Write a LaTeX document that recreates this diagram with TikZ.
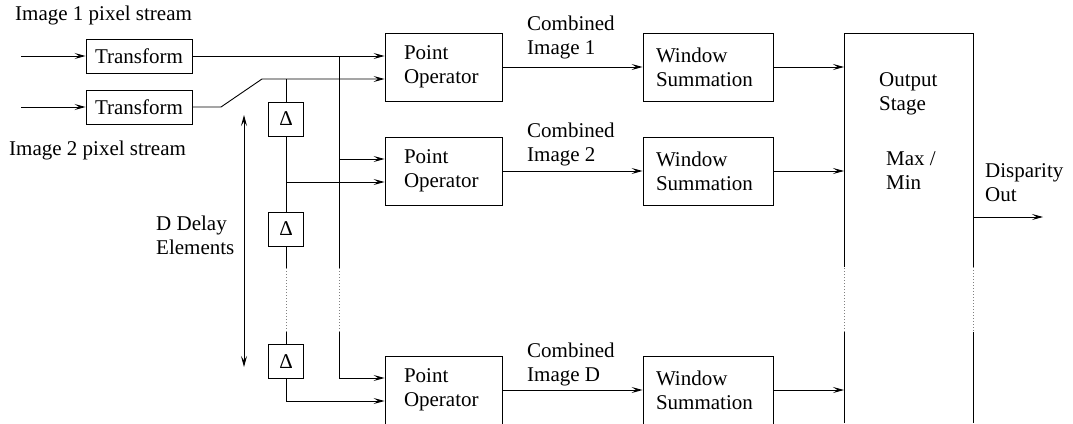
\documentclass[tikz,border=0pt]{standalone}
\usepackage{fontspec}
\setmainfont{Liberation Serif}
\usetikzlibrary{arrows.meta}
\tikzset{
  tip/.tip={Stealth[length=11pt,width=6pt,inset=4.5pt]},
  wire/.style={line width=0.9pt},
  feed/.style={wire, -tip},
  dots/.style={line width=0.9pt, dash pattern=on 1pt off 2pt, gray},
  box/.style={draw, line width=0.9pt, inner sep=0pt},
  xform/.style={box, minimum width=106pt, minimum height=34pt},
  pobox/.style={box, minimum height=68pt, inner ysep=0pt, inner xsep=19pt, text width=79pt, align=left},
  wsbox/.style={box, minimum height=68pt, inner ysep=0pt, inner xsep=13pt, text width=104pt, align=left},
  dbox/.style={box, minimum width=35pt, minimum height=34pt},
  lbl/.style={inner sep=0pt, align=left, anchor=north west}
}
\begin{document}
\begin{tikzpicture}[x=1pt, y=-1pt, font=\fontsize{21}{24}\selectfont]
\useasboundingbox (0,0) rectangle (1073,423);
\clip (0,0) rectangle (1073,423);

% input stage
\node[xform] (t1) at (139,56) {Transform};
\node[xform] (t2) at (139,107) {Transform};
\coordinate (in1) at (21,56);
\coordinate (in2) at (21,107);
\draw[feed] (in1) -- (t1);
\draw[feed] (in2) -- (t2);
\node[lbl] (lab1) at (15,6) {Image 1 pixel stream};
\node[lbl] (lab2) at (9,141) {Image 2 pixel stream};

% point operators
\node[pobox] (po1) at (443.5,67) {Point\\Operator};
\node[pobox] (po2) at (443.5,171) {Point\\Operator};
\node[pobox] (poD) at (443.5,390) {Point\\Operator};

% window summations
\node[wsbox] (ws1) at (708,67) {Window\\Summation};
\node[wsbox] (ws2) at (708,171) {Window\\Summation};
\node[wsbox] (wsD) at (708,390) {Window\\Summation};

% delay elements
\node[dbox] (d1) at (286,119) {Δ};
\node[dbox] (d2) at (286,229) {Δ};
\node[dbox] (d3) at (286,361.5) {Δ};

% output stage (open at the bottom, broken sides)
\coordinate (oTL) at (844,33);
\coordinate (oTR) at (973,33);
\draw[wire] (844,423) -- (844,332);
\draw[dots] (844,332) -- (844,267);
\draw[wire] (844,267) -- (oTL) -- (oTR) -- (973,267);
\draw[dots] (973,267) -- (973,332);
\draw[wire] (973,332) -- (973,423);
\node[lbl] (ostage) at (879,72) {Output\\Stage};
\node[lbl] (maxmin) at (886,151) {Max /\\Min};

% image 1 line and the bus feeding every point operator
\coordinate (bus0) at (339,56);
\coordinate (bus2) at (339,159);
\coordinate (busA) at (339,268);
\coordinate (busB) at (339,332);
\coordinate (busD) at (339,378);
\draw[feed] (t1.east) -- (t1.east -| po1.west);
\draw[wire] (bus0) -- (busA);
\draw[dots] (busA) -- (busB);
\draw[wire] (busB) -- (busD);
\draw[feed] (bus2) -- (bus2 -| po2.west);
\draw[feed] (busD) -- (busD -| poD.west);

% image 2 line through the delay chain
\coordinate (k1) at (221,107);
\coordinate (k2) at (262,79);
\coordinate (c0) at (286,79);
\coordinate (c2) at (286,182);
\coordinate (cA) at (286,268);
\coordinate (cB) at (286,332);
\coordinate (cD) at (286,401);
\draw[feed] (t2.east) -- (k1) -- (k2) -- (k2 -| po1.west);
\draw[wire] (c0) -- (d1.north);
\draw[wire] (d1.south) -- (d2.north);
\draw[feed] (c2) -- (c2 -| po2.west);
\draw[wire] (d2.south) -- (cA);
\draw[dots] (cA) -- (cB);
\draw[wire] (cB) -- (d3.north);
\draw[feed] (d3.south) -- (cD) -- (cD -| poD.west);

% delay span marker
\coordinate (sp1) at (244,115);
\coordinate (sp2) at (244,367);
\draw[wire, tip-tip] (sp1) -- (sp2);
\node[lbl] (dlab) at (156,216) {D Delay\\Elements};

% point operators to window summations
\draw[feed] (po1) -- (ws1);
\draw[feed] (po2) -- (ws2);
\draw[feed] (poD) -- (wsD);
\node[lbl] (ci1) at (527,16) {Combined\\Image 1};
\node[lbl] (ci2) at (527,123) {Combined\\Image 2};
\node[lbl] (ciD) at (527,343) {Combined\\Image D};

% window summations to output stage
\draw[feed] (ws1.east) -- (ws1.east -| oTL);
\draw[feed] (ws2.east) -- (ws2.east -| oTL);
\draw[feed] (wsD.east) -- (wsD.east -| oTL);

% disparity output
\coordinate (oo) at (973,217);
\coordinate (oend) at (1043,217);
\draw[feed] (oo) -- (oend);
\node[lbl] (disp) at (985,163) {Disparity\\Out};
\end{tikzpicture}
\end{document}
